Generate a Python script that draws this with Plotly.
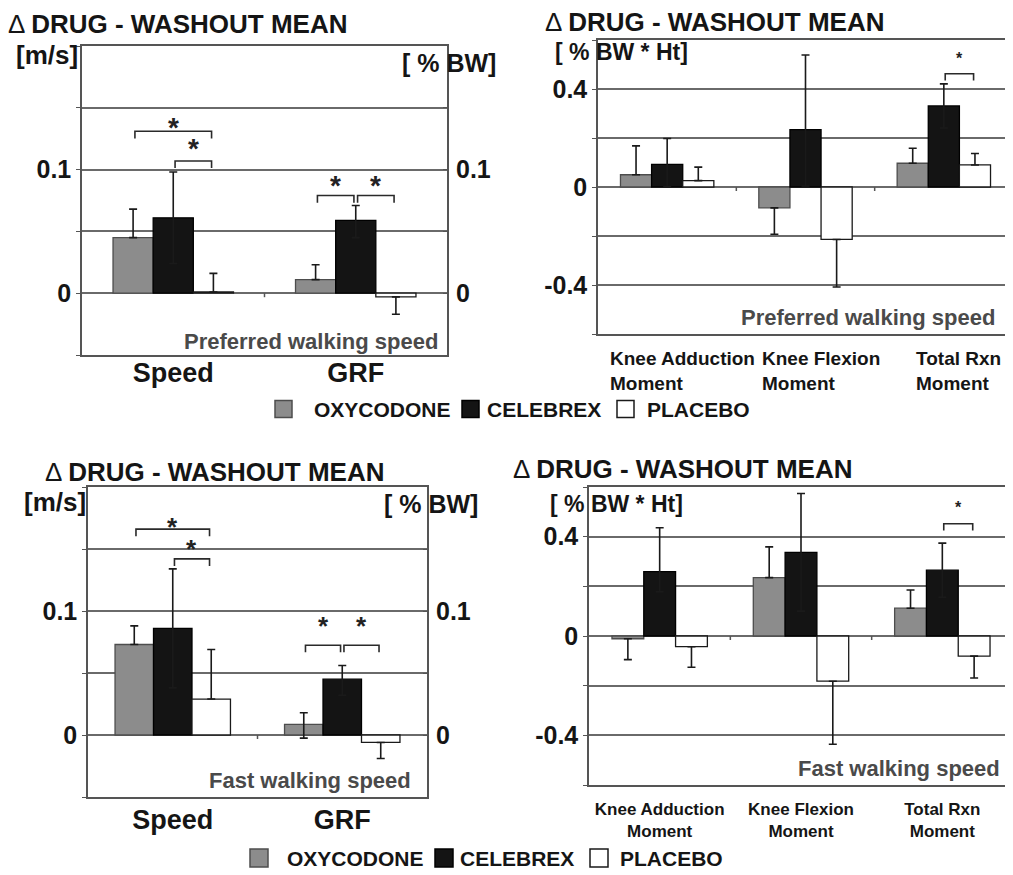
import plotly.graph_objects as go

# The page body has an 8 px margin, so the figure is drawn 8 px in from the corner.
OFF = 8
W, H = 1013 - OFF, 875 - OFF
FONT = "Liberation Sans"

SERIES = ["OXYCODONE", "CELEBREX", "PLACEBO"]
FILL = ["#8c8c8c", "#141414", "#ffffff"]
EDGE = ["#4d4d4d", "#000000", "#1a1a1a"]

SG_CATS = ["Speed", "GRF"]
MOM_CATS = ["Knee Adduction<br>Moment", "Knee Flexion<br>Moment", "Total Rxn<br>Moment"]

# ---- Preferred walking speed: Speed [m/s] (left axis) / GRF [%BW] (right axis)
PREF_SG_OXY = [0.045, 0.011]
PREF_SG_OXY_UP = [0.023, 0.012]
PREF_SG_OXY_DN = [0.0, 0.0]
PREF_SG_CEL = [0.061, 0.059]
PREF_SG_CEL_UP = [0.037, 0.012]
PREF_SG_CEL_DN = [0.037, 0.014]
PREF_SG_PLA = [0.001, -0.003]
PREF_SG_PLA_UP = [0.015, 0.0]
PREF_SG_PLA_DN = [0.0, 0.014]

# ---- Preferred walking speed: moments [%BW*Ht]
PREF_M_OXY = [0.050, -0.085, 0.097]
PREF_M_OXY_UP = [0.118, 0.0, 0.061]
PREF_M_OXY_DN = [0.0, 0.108, 0.0]
PREF_M_CEL = [0.092, 0.234, 0.331]
PREF_M_CEL_UP = [0.106, 0.305, 0.090]
PREF_M_CEL_DN = [0.090, 0.230, 0.090]
PREF_M_PLA = [0.026, -0.214, 0.090]
PREF_M_PLA_UP = [0.055, 0.0, 0.047]
PREF_M_PLA_DN = [0.0, 0.194, 0.0]

# ---- Fast walking speed: Speed [m/s] / GRF [%BW]
FAST_SG_OXY = [0.073, 0.0085]
FAST_SG_OXY_UP = [0.015, 0.0095]
FAST_SG_OXY_DN = [0.0, 0.011]
FAST_SG_CEL = [0.086, 0.045]
FAST_SG_CEL_UP = [0.048, 0.011]
FAST_SG_CEL_DN = [0.048, 0.013]
FAST_SG_PLA = [0.029, -0.006]
FAST_SG_PLA_UP = [0.040, 0.0]
FAST_SG_PLA_DN = [0.0, 0.013]

# ---- Fast walking speed: moments [%BW*Ht]
FAST_M_OXY = [-0.011, 0.235, 0.112]
FAST_M_OXY_UP = [0.0, 0.124, 0.073]
FAST_M_OXY_DN = [0.084, 0.0, 0.0]
FAST_M_CEL = [0.259, 0.337, 0.265]
FAST_M_CEL_UP = [0.177, 0.237, 0.109]
FAST_M_CEL_DN = [0.081, 0.237, 0.109]
FAST_M_PLA = [-0.043, -0.182, -0.081]
FAST_M_PLA_UP = [0.0, 0.0, 0.0]
FAST_M_PLA_DN = [0.083, 0.254, 0.088]

# significance brackets: (category, series_a, series_b, bracket_y, star_y)
PREF_SG_SIG = [(0, 0, 2, 0.131, 0.137), (0, 1, 2, 0.107, 0.120),
               (1, 0, 1, 0.079, 0.090), (1, 1, 2, 0.079, 0.090)]
FAST_SG_SIG = [(0, 0, 2, 0.166, 0.171), (0, 1, 2, 0.142, 0.153),
               (1, 0, 1, 0.0724, 0.091), (1, 1, 2, 0.0724, 0.091)]
PREF_M_SIG = [(2, 1, 2, 0.462, 0.539)]
FAST_M_SIG = [(2, 1, 2, 0.452, 0.533)]

SG_RANGE = [-0.05, 0.2]
SG_GRID = [-0.05, 0.0, 0.05, 0.1, 0.15, 0.2]
SG_TICKTEXT = ["", "0", "", "0.1", "", ""]
SG_RIGHT_TICKS = [-0.05, 0.0, 0.05, 0.1, 0.15, 0.2]
SG_RIGHT_TEXT = ["", "0", "", "0.1", "", ""]
M_RANGE = [-0.6, 0.6]
M_GRID = [-0.6, -0.4, -0.2, 0.0, 0.2, 0.4, 0.6]
M_TICKTEXT = ["", "-0.4", "", "0", "", "0.4", ""]


def PX(x):
    return (x - OFF) / W


def PY(y):
    return 1 - (y - OFF) / H


fig = go.Figure()
shapes = []
annotations = []

GRID_C = "#6a6a6a"
LINE_C = "#555555"
TXT_C = "#151515"


def add_panel(xa, yas, ncat, vals, ups, dns, bw, sig, star_size, yspan):
    # yas: y axis used by each category
    for s in range(3):
        for ya in sorted(set(yas)):
            idx = [i for i in range(ncat) if yas[i] == ya]
            fig.add_trace(go.Bar(
                x=[i + (s - 1) * bw for i in idx], y=[vals[s][i] for i in idx],
                width=bw, name=SERIES[s], showlegend=False,
                marker=dict(color=FILL[s], line=dict(color=EDGE[s], width=1.3)),
                error_y=dict(type="data", symmetric=False,
                             array=[ups[s][i] for i in idx],
                             arrayminus=[dns[s][i] for i in idx],
                             color="#1a1a1a", thickness=1.6, width=4),
                xaxis=xa, yaxis=ya))
    # small category-boundary tick marks hanging below the zero line
    for i in range(ncat - 1):
        shapes.append(dict(type="line", xref=xa, yref=yas[0], ysizemode="pixel", yanchor=0,
                           x0=i + 0.5, x1=i + 0.5, y0=-4, y1=0,
                           line=dict(color=LINE_C, width=1.5)))
    drop = 0.023 * yspan
    for (c, a, b, yb, ys) in sig:
        x1 = c + (a - 1) * bw + 0.01
        x2 = c + (b - 1) * bw - 0.01
        ya = yas[c]
        shapes.append(dict(type="path", xref=xa, yref=ya,
                           path=f"M {x1},{yb - drop} L {x1},{yb} L {x2},{yb} L {x2},{yb - drop}",
                           line=dict(color="#2a2a2a", width=1.6)))
        annotations.append(dict(xref=xa, yref=ya, x=(x1 + x2) / 2, y=ys, text="*",
                                showarrow=False, yanchor="middle", yshift=-4,
                                font=dict(family=FONT, size=star_size, color="#222", weight="bold")))


add_panel("x", ["y", "y2"], 2, [PREF_SG_OXY, PREF_SG_CEL, PREF_SG_PLA],
          [PREF_SG_OXY_UP, PREF_SG_CEL_UP, PREF_SG_PLA_UP],
          [PREF_SG_OXY_DN, PREF_SG_CEL_DN, PREF_SG_PLA_DN], 0.22, PREF_SG_SIG, 28, 0.25)
add_panel("x2", ["y3"] * 3, 3, [PREF_M_OXY, PREF_M_CEL, PREF_M_PLA],
          [PREF_M_OXY_UP, PREF_M_CEL_UP, PREF_M_PLA_UP],
          [PREF_M_OXY_DN, PREF_M_CEL_DN, PREF_M_PLA_DN], 0.225, PREF_M_SIG, 16, 1.2)
add_panel("x3", ["y4", "y5"], 2, [FAST_SG_OXY, FAST_SG_CEL, FAST_SG_PLA],
          [FAST_SG_OXY_UP, FAST_SG_CEL_UP, FAST_SG_PLA_UP],
          [FAST_SG_OXY_DN, FAST_SG_CEL_DN, FAST_SG_PLA_DN], 0.227, FAST_SG_SIG, 26, 0.25)
add_panel("x4", ["y6"] * 3, 3, [FAST_M_OXY, FAST_M_CEL, FAST_M_PLA],
          [FAST_M_OXY_UP, FAST_M_CEL_UP, FAST_M_PLA_UP],
          [FAST_M_OXY_DN, FAST_M_CEL_DN, FAST_M_PLA_DN], 0.225, FAST_M_SIG, 16, 1.2)

tickfont = dict(family=FONT, size=25, color=TXT_C, weight="bold")


def xaxis(dom, anchor, ncat, labels, size, standoff):
    d = dict(domain=[PX(dom[0]), PX(dom[1])], anchor=anchor, range=[-0.5, ncat - 0.5],
             showline=True, linecolor=LINE_C, linewidth=1.5, mirror=True,
             showgrid=False, zeroline=False, ticks="", fixedrange=True)
    if labels is None:
        d.update(tickvals=[], showticklabels=False)
    else:
        d.update(tickvals=list(range(ncat)), ticktext=labels, ticklabelstandoff=standoff,
                 tickfont=dict(family=FONT, size=size, color=TXT_C, weight="bold"))
    return d


def yaxis(dom, anchor, rng, grid, text, mirror):
    return dict(domain=[PY(dom[1]), PY(dom[0])], anchor=anchor, range=rng,
                tickvals=grid, ticktext=text, tickfont=tickfont,
                showgrid=True, gridcolor=GRID_C, gridwidth=1.5,
                showline=True, linecolor=LINE_C, linewidth=1.5, mirror=mirror,
                zeroline=False, ticks="outside", ticklen=4, tickcolor=LINE_C,
                fixedrange=True)


def yright(over, anchor, rng):
    return dict(overlaying=over, anchor=anchor, side="right", range=rng,
                tickvals=SG_RIGHT_TICKS, ticktext=SG_RIGHT_TEXT, tickfont=tickfont,
                showgrid=False, zeroline=False, showline=False,
                ticks="inside", ticklen=4, tickcolor=LINE_C,
                ticklabelstandoff=8, fixedrange=True)


TL = ([82, 447], [46, 355])
TR = ([598, 1013], [40, 334])
BL = ([88, 427], [487, 797])
BR = ([589, 1013], [487, 785])

fig.update_layout(
    width=W, height=H, margin=dict(l=0, r=0, t=0, b=0),
    paper_bgcolor="white", plot_bgcolor="white", barmode="overlay",
    showlegend=False,
    xaxis=xaxis(TL[0], "y", 2, SG_CATS, 27, -7),
    yaxis=yaxis(TL[1], "x", SG_RANGE, SG_GRID, SG_TICKTEXT, True),
    yaxis2=yright("y", "x", SG_RANGE),
    xaxis2=xaxis(TR[0], "y3", 3, None, 18, 0),
    yaxis3=yaxis(TR[1], "x2", M_RANGE, M_GRID, M_TICKTEXT, False),
    xaxis3=xaxis(BL[0], "y4", 2, SG_CATS, 27, -2),
    yaxis4=yaxis(BL[1], "x3", SG_RANGE, SG_GRID, SG_TICKTEXT, True),
    yaxis5=yright("y4", "x3", SG_RANGE),
    xaxis4=xaxis(BR[0], "y6", 3, MOM_CATS, 17, 8),
    yaxis6=yaxis(BR[1], "x4", M_RANGE, M_GRID, M_TICKTEXT, False),
)


def text(x, y, s, size, anchor="left", color=TXT_C, weight="bold"):
    annotations.append(dict(xref="paper", yref="paper", x=PX(x), y=PY(y), text=s,
                            showarrow=False, xanchor=anchor, yanchor="middle",
                            font=dict(family=FONT, size=size, color=color, weight=weight)))


TITLE = "Δ <b>DRUG - WASHOUT MEAN</b>"
for (x, y) in [(6, 24), (543, 22), (43, 472), (511, 469)]:
    text(x, y, TITLE, 26, weight="normal")

text(14, 55, "[m/s]", 26)
text(22, 502, "[m/s]", 26)
text(498, 63, "[ % BW]", 25, anchor="right")
text(480, 504, "[ % BW]", 25, anchor="right")
text(553, 52, "[ % BW * Ht]", 23)
text(548, 504, "[ % BW * Ht]", 23)

text(440, 341, "Preferred walking speed", 22, anchor="right", color="#4a4a4a")
text(997, 317, "Preferred walking speed", 22, anchor="right", color="#4a4a4a")
text(413, 780, "Fast walking speed", 22, anchor="right", color="#4a4a4a")
text(1002, 768, "Fast walking speed", 22, anchor="right", color="#4a4a4a")

# top-right category labels (lines left aligned)
for i, lab in enumerate(MOM_CATS):
    annotations.append(dict(xref="x2", yref="paper", x=i, y=PY(371), text=lab,
                            showarrow=False, xanchor="center", yanchor="middle", xshift=15,
                            align="left",
                            font=dict(family=FONT, size=19, color=TXT_C, weight="bold")))


def legend(sq_x, txt_x, yc, sz):
    for s in range(3):
        shapes.append(dict(type="rect", xref="paper", yref="paper",
                           x0=PX(sq_x[s]), x1=PX(sq_x[s] + sz),
                           y0=PY(yc + sz / 2), y1=PY(yc - sz / 2),
                           fillcolor=FILL[s], line=dict(color=EDGE[s], width=1.5)))
        text(txt_x[s], yc, SERIES[s], 21)


legend([275, 462, 617], [312, 485, 645], 409, 17)
legend([250, 435, 590], [285, 458, 618], 858, 18)

fig.update_layout(shapes=shapes, annotations=annotations)
fig.write_html("out.html")
